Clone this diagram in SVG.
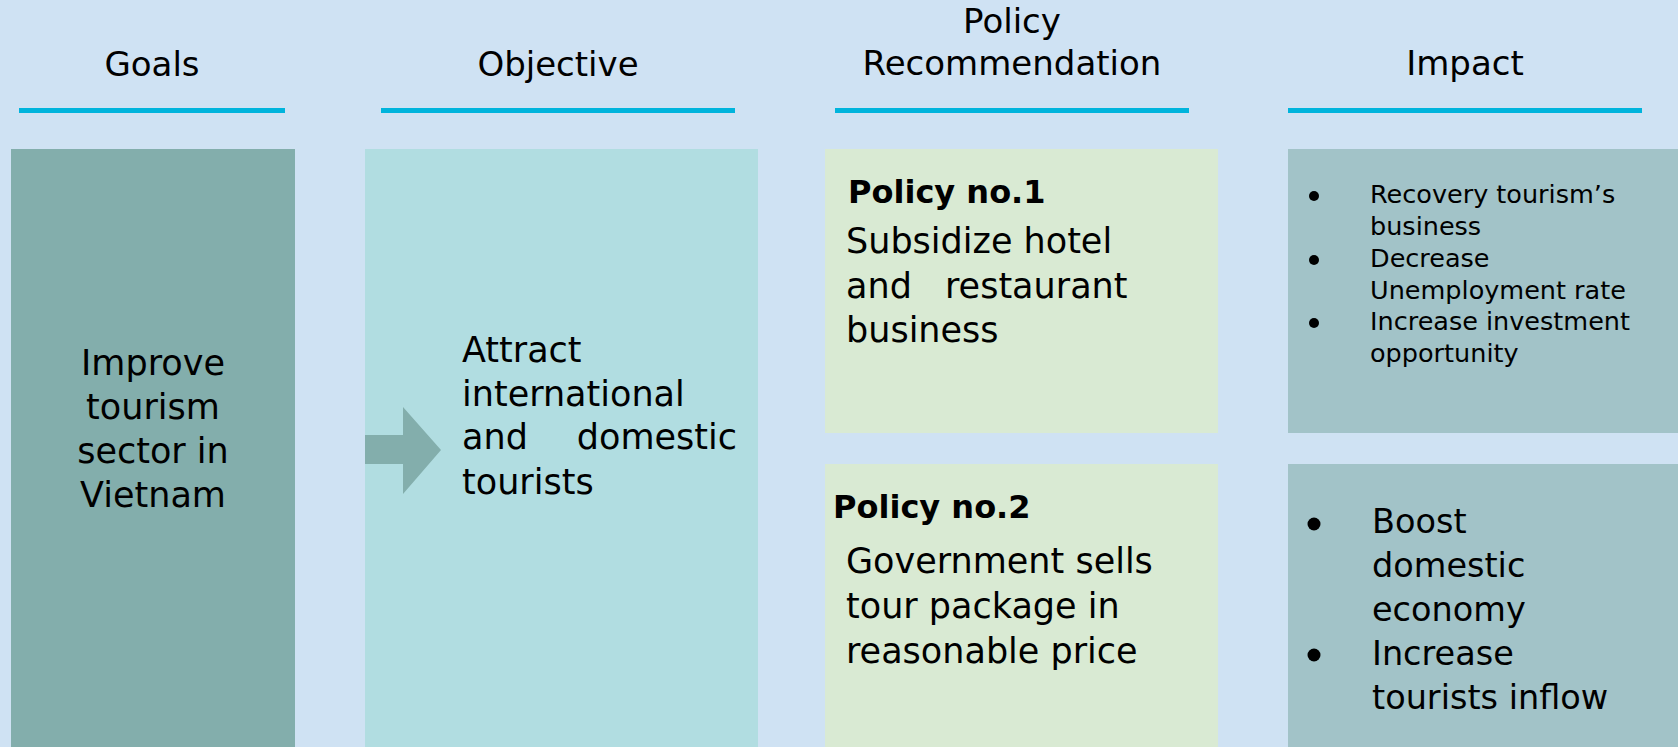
<svg xmlns="http://www.w3.org/2000/svg" width="1678" height="747" viewBox="0 0 1678 747">
<style>
.t{font-family:"DejaVu Sans","Liberation Sans",sans-serif;fill:#000;}
.h{font-size:34px;text-anchor:middle;}
.b{font-size:35px;}
.s{font-size:25.5px;}
.i2{font-size:33.5px;}
.bold{font-size:32px;font-weight:bold;}
.ul{fill:#00b4dc;}
.dot{fill:#000;}
</style>
<rect width="1678" height="747" fill="#cfe2f3"/>
<g id="headers">
<text class="t h" x="152" y="76">Goals</text>
<rect class="ul" x="19" y="108" width="266" height="5"/>
<text class="t h" x="558" y="76">Objective</text>
<rect class="ul" x="381" y="108" width="354" height="5"/>
<text class="t h" x="1012" y="33">Policy</text>
<text class="t h" x="1012" y="75">Recommendation</text>
<rect class="ul" x="835" y="108" width="354" height="5"/>
<text class="t h" x="1465" y="75">Impact</text>
<rect class="ul" x="1288" y="108" width="354" height="5"/>
</g>
<g id="goal">
<rect x="11" y="149" width="284" height="598" fill="#83aeac"/>
<text class="t b" text-anchor="middle" x="153" y="375">Improve</text>
<text class="t b" text-anchor="middle" x="153" y="419">tourism</text>
<text class="t b" text-anchor="middle" x="153" y="463">sector in</text>
<text class="t b" text-anchor="middle" x="153" y="507">Vietnam</text>
</g>
<g id="objective">
<rect x="365" y="149" width="393" height="598" fill="#b1dde1"/>
<text class="t b" x="462" y="362">Attract</text>
<text class="t b" x="462" y="406">international</text>
<text class="t b" x="462" y="449">and</text>
<text class="t b" x="737" y="449" text-anchor="end">domestic</text>
<text class="t b" x="462" y="494">tourists</text>
</g>
<g id="policy1">
<rect x="825" y="149" width="393" height="284" fill="#d9ead3"/>
<text class="t bold" x="848" y="203">Policy no.1</text>
<text class="t b" x="846" y="253">Subsidize hotel</text>
<text class="t b" x="846" y="298">and</text>
<text class="t b" x="945" y="298">restaurant</text>
<text class="t b" x="846" y="342">business</text>
</g>
<g id="policy2">
<rect x="825" y="464" width="393" height="283" fill="#d9ead3"/>
<text class="t bold" x="833" y="518">Policy no.2</text>
<text class="t b" x="846" y="573">Government sells</text>
<text class="t b" x="846" y="618">tour package in</text>
<text class="t b" x="846" y="663">reasonable price</text>
</g>
<g id="impact1">
<rect x="1288" y="149" width="390" height="284" fill="#a2c3c8"/>
<circle class="dot" cx="1314" cy="196" r="5"/>
<circle class="dot" cx="1314" cy="260" r="5"/>
<circle class="dot" cx="1314" cy="323" r="5"/>
<text class="t s" x="1370" y="203">Recovery tourism’s</text>
<text class="t s" x="1370" y="235">business</text>
<text class="t s" x="1370" y="267">Decrease</text>
<text class="t s" x="1370" y="299">Unemployment rate</text>
<text class="t s" x="1370" y="330">Increase investment</text>
<text class="t s" x="1370" y="362">opportunity</text>
</g>
<g id="impact2">
<rect x="1288" y="464" width="390" height="283" fill="#a2c3c8"/>
<circle class="dot" cx="1314" cy="524" r="6.5"/>
<circle class="dot" cx="1314" cy="655" r="6.5"/>
<text class="t i2" x="1372" y="533">Boost</text>
<text class="t i2" x="1372" y="577">domestic</text>
<text class="t i2" x="1372" y="621">economy</text>
<text class="t i2" x="1372" y="665">Increase</text>
<text class="t i2" x="1372" y="709">tourists inflow</text>
</g>
<g id="connectors">
<polygon points="365,435 403,435 403,407 441,450 403,494 403,464 365,464" fill="#83aeac"/>
</g>
</svg>
